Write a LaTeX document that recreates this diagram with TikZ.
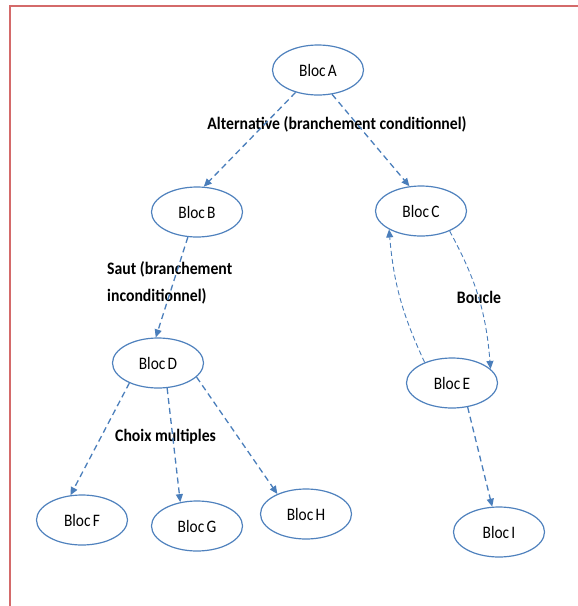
\documentclass[tikz,border=0pt]{standalone}
\usepackage{fontspec}
\setmainfont{Carlito}
\newfontfamily\nodefont[FakeStretch=0.88,WordSpace=0.65]{Carlito}
\newfontfamily\lblfont[FakeStretch=0.9]{Carlito}
\usetikzlibrary{arrows.meta,shapes.geometric}
\definecolor{edgeblue}{HTML}{4F81BD}
\definecolor{arrblue}{HTML}{4A7EBB}
\definecolor{frame}{HTML}{D46A6A}
\begin{document}
\begin{tikzpicture}[x=1pt,y=-1pt,
  bloc/.style={ellipse,draw=edgeblue,line width=1.2pt,minimum width=91pt,minimum height=50pt,inner sep=0pt,font=\nodefont\fontsize{17.5}{17.5}\selectfont},
  flow/.style={draw=arrblue,line width=1.3pt,dash pattern=on 6pt off 4pt,-{Triangle[length=8pt,width=7pt]}},
  thinflow/.style={draw=arrblue,line width=0.9pt,dash pattern=on 5pt off 3pt,-{Triangle[length=8pt,width=7pt]}},
  lbl/.style={font=\lblfont\fontsize{17.5}{27}\selectfont\bfseries,inner sep=0pt}]
\useasboundingbox (0,0) rectangle (578,606);
\draw[frame,line width=1.5pt] (10,606) -- (10,6) -- (578,6);
\node[bloc] (A) at (318,70) {Bloc A};
\node[bloc] (B) at (197,212) {Bloc B};
\node[bloc] (C) at (421,211) {Bloc C};
\node[bloc] (D) at (158,363) {Bloc D};
\node[bloc] (E) at (452,383) {Bloc E};
\node[bloc] (F) at (82,520) {Bloc F};
\node[bloc] (G) at (197,526) {Bloc G};
\node[bloc] (H) at (306,514) {Bloc H};
\node[bloc] (I) at (499,532) {Bloc I};
\node[lbl] (alt) at (337,124) {Alternative (branchement conditionnel)};
\node[lbl,anchor=west,align=left] (saut) at (107,283) {Saut (branchement\\inconditionnel)};
\node[lbl] (boucle) at (479,297) {Boucle};
\node[lbl,anchor=west] (choix) at (115,437) {Choix multiples};
\draw[flow] (A.225) -- (B.75);
\draw[flow] (A.-60) -- (C.115);
\draw[flow] (B.-110) -- (D.95);
\draw[thinflow] (C.-35) to[bend left=12] (E.20);
\draw[thinflow] (E.143) to[bend left=10] (C.-150);
\draw[flow] (D.-145) -- (F.115);
\draw[flow] (D.-70) -- (G.125);
\draw[flow] (D.-20) -- (H.145);
\draw[flow] (E.-57) -- (I.105);
\end{tikzpicture}
\end{document}
